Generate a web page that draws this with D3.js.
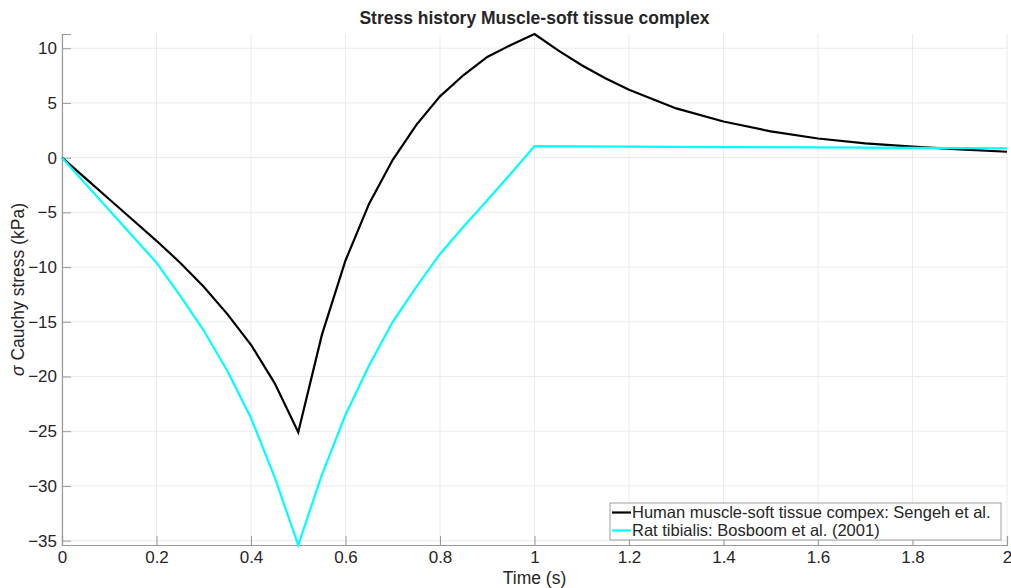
<!DOCTYPE html>
<html>
<head>
<meta charset="utf-8">
<script src="https://cdn.jsdelivr.net/npm/d3@7"></script>
<style>
  body { margin: 0; background: #fff; }
  text { font-family: Helvetica, "Liberation Sans", Arial, sans-serif; fill: #262626; }
</style>
</head>
<body>
<div id="chart"></div>
<script>
// time values (s) and stresses (kPa)
var humanTime = [0, 0.05, 0.1, 0.15, 0.2, 0.25, 0.3, 0.35, 0.4, 0.45, 0.5,
  0.55, 0.6, 0.65, 0.7, 0.75, 0.8, 0.85, 0.9, 0.95, 1.0,
  1.05, 1.1, 1.15, 1.2, 1.3, 1.4, 1.5, 1.6, 1.7, 1.8, 1.9, 2.0];
var humanStress = [0, -1.9, -3.8, -5.7, -7.6, -9.6, -11.8, -14.3, -17.1, -20.6, -25.1,
  -16.2, -9.4, -4.2, -0.2, 3.0, 5.6, 7.55, 9.2, 10.3, 11.3,
  9.8, 8.45, 7.25, 6.2, 4.5, 3.3, 2.4, 1.75, 1.3, 1.0, 0.76, 0.54];

var ratTime = [0, 0.05, 0.1, 0.15, 0.2, 0.25, 0.3, 0.35, 0.4, 0.45, 0.5,
  0.55, 0.6, 0.65, 0.7, 0.75, 0.8, 0.85, 0.9, 0.95, 1.0,
  1.2, 1.4, 1.6, 1.8, 2.0];
var ratStress = [0, -2.4, -4.8, -7.2, -9.6, -12.6, -15.8, -19.5, -23.8, -29.2, -35.4,
  -29.0, -23.5, -19.0, -15.0, -11.8, -8.8, -6.3, -3.9, -1.45, 1.05,
  1.0, 0.97, 0.94, 0.9, 0.86];

var seriesNames = ["Human muscle-soft tissue compex: Sengeh et al.", "Rat tibialis: Bosboom et al. (2001)"];
var seriesColors = ["#000000", "#00ffff"];
var xTicks = [0, 0.2, 0.4, 0.6, 0.8, 1, 1.2, 1.4, 1.6, 1.8, 2];
var yTicks = [-35, -30, -25, -20, -15, -10, -5, 0, 5, 10];

var svgWidth = 1011, svgHeight = 588;
var margin = { top: 34, right: 4, bottom: 43, left: 62 };
var chartWidth = svgWidth - margin.left - margin.right;
var chartHeight = svgHeight - margin.top - margin.bottom;

var svg = d3.select("#chart").append("svg")
  .attr("width", svgWidth)
  .attr("height", svgHeight);

var chartGroup = svg.append("g")
  .attr("transform", `translate(${margin.left}, ${margin.top})`);

var series = [
  { name: seriesNames[0], color: seriesColors[0], pts: humanTime.map((t, i) => [t, humanStress[i]]) },
  { name: seriesNames[1], color: seriesColors[1], pts: ratTime.map((t, i) => [t, ratStress[i]]) }
];

// axis tight, like matlab
var allStress = humanStress.concat(ratStress);
var xScale = d3.scaleLinear().domain([0, 2]).range([0, chartWidth]);
var yScale = d3.scaleLinear().domain(d3.extent(allStress)).range([chartHeight, 0]);

// grid
chartGroup.append("g").selectAll("line").data(xTicks).enter().append("line")
  .attr("x1", d => xScale(d)).attr("x2", d => xScale(d))
  .attr("y1", 0).attr("y2", chartHeight)
  .attr("stroke", "#ebebeb").attr("stroke-width", 1);
chartGroup.append("g").selectAll("line").data(yTicks).enter().append("line")
  .attr("x1", 0).attr("x2", chartWidth)
  .attr("y1", d => yScale(d)).attr("y2", d => yScale(d))
  .attr("stroke", "#ebebeb").attr("stroke-width", 1);

// axes (ticks point inward)
var minusFmt = d => d3.format("~g")(d).replace("-", "\u2212");
var bottomAxis = d3.axisBottom(xScale).tickValues(xTicks).tickSize(-9).tickPadding(6)
  .tickFormat(minusFmt);
var leftAxis = d3.axisLeft(yScale).tickValues(yTicks).tickSize(-9).tickPadding(5)
  .tickFormat(minusFmt);

var xAxis = chartGroup.append("g")
  .attr("transform", `translate(0, ${chartHeight})`)
  .call(bottomAxis);
var yAxis = chartGroup.append("g").call(leftAxis);

[xAxis, yAxis].forEach(function(ax) {
  ax.select(".domain").attr("stroke", "#9a9a9a").attr("stroke-width", 1.2);
  ax.selectAll(".tick line").attr("stroke", "#9a9a9a");
  ax.selectAll(".tick text").attr("font-size", "17px").attr("fill", "#333");
});

// lines
var line = d3.line().x(d => xScale(d[0])).y(d => yScale(d[1]));
chartGroup.selectAll(".series").data(series).enter().append("path")
  .attr("class", "series")
  .attr("d", d => line(d.pts))
  .attr("fill", "none")
  .attr("stroke", d => d.color)
  .attr("stroke-width", 2.2)
  .attr("stroke-linejoin", "miter");

// title
svg.append("text")
  .attr("x", margin.left + chartWidth / 2)
  .attr("y", 24)
  .attr("text-anchor", "middle")
  .attr("font-size", "17.5px")
  .attr("font-weight", "bold")
  .attr("fill", "#000")
  .text("Stress history Muscle-soft tissue complex");

// axis labels
svg.append("text")
  .attr("x", margin.left + chartWidth / 2)
  .attr("y", 584)
  .attr("text-anchor", "middle")
  .attr("font-size", "17.5px")
  .text("Time (s)");

var yLabel = svg.append("text")
  .attr("transform", `translate(24, ${margin.top + chartHeight / 2}) rotate(-90)`)
  .attr("text-anchor", "middle")
  .attr("font-size", "17.5px");
yLabel.append("tspan").attr("font-style", "italic").text("σ");
yLabel.append("tspan").text(" Cauchy stress (kPa)");

// legend
var legend = svg.append("g").attr("transform", "translate(610, 503)");
legend.append("rect")
  .attr("width", 391).attr("height", 37)
  .attr("fill", "#fff").attr("stroke", "#a0a0a0").attr("stroke-width", 1);
var legendItems = legend.selectAll(".legend-item").data(series).enter().append("g")
  .attr("transform", (d, i) => `translate(0, ${9.5 + i * 18})`);
legendItems.append("line")
  .attr("x1", 2).attr("x2", 21)
  .attr("stroke", d => d.color).attr("stroke-width", 2.2);
legendItems.append("text")
  .attr("x", 22).attr("dy", "0.35em")
  .attr("font-size", "16.5px").attr("fill", "#000")
  .text(d => d.name);
</script>
</body>
</html>
